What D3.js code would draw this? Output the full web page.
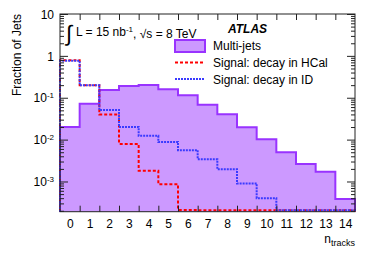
<!DOCTYPE html>
<html>
<head>
<meta charset="utf-8">
<script src="https://cdn.jsdelivr.net/npm/d3@7"></script>
<style>
body{margin:0;background:#fff;}
svg{display:block;font-family:"Liberation Sans",Arial,sans-serif;}
.tick line{stroke:#222;}
</style>
</head>
<body>
<svg id="chart" width="374" height="253"></svg>
<script>
// bin centres (number of tracks)
const nTracks = [0,1,2,3,4,5,6,7,8,9,10,11,12,13,14]
// fraction of jets per bin
const multiJets = [0.020,0.072,0.153,0.191,0.202,0.160,0.115,0.0685,0.0404,0.0198,0.0102,0.0050,0.0026,0.0017,0.00038]
const signalHCal = [0.79,0.20,0.040,0.0079,0.0018,0.00086,0.00021,0,0,0,0,0,0,0,0]
const signalID = [0.76,0.20,0.051,0.020,0.0123,0.0088,0.0056,0.0034,0.00196,0.0009,0.0004,0,0,0,0]

const yMajor = [1e-3,1e-2,1e-1,1,10]

function init(){
	let svg = d3.select('#chart')
	let left = 60, right = 355, top = 14, bottom = 211.7

	let x = d3.scaleLinear().domain([-0.5,14.5]).range([left,right])
	let y = d3.scaleLog().domain([1.9e-4,10]).range([bottom,top])

	// minor log ticks 2..9 for each decade
	let yMinor = []
	for(let e=-4;e<1;e++){
		for(let m=2;m<10;m++){
			let v = m*Math.pow(10,e)
			if(v>=1.9e-4 && v<10){yMinor.push(v)}
		}
	}

	function stepPath(values,floor){
		let pts = [[x(-0.5),bottom]]
		values.forEach(function(v,i){
			let yy = v>y.domain()[0] ? y(v) : floor
			pts.push([x(nTracks[i]-0.5),yy])
			pts.push([x(nTracks[i]+0.5),yy])
		})
		pts.push([x(14.5),bottom])
		return pts
	}

	// multi-jets filled histogram
	let mj = stepPath(multiJets,bottom)
	svg.append('path')
		.attr('d',d3.line()(mj))
		.attr('fill','#cc99ff')
		.attr('stroke','#9933ff')
		.attr('stroke-width',2)

	// signal histograms
	svg.append('path')
		.attr('d',d3.line()(stepPath(signalHCal,bottom-1.5)))
		.attr('fill','none')
		.attr('stroke','#ff0000')
		.attr('stroke-width',2)
		.attr('stroke-dasharray','3,2')

	svg.append('path')
		.attr('d',d3.line()(stepPath(signalID,bottom-1.5)))
		.attr('fill','none')
		.attr('stroke','#3a3aff')
		.attr('stroke-width',2)
		.attr('stroke-dasharray','2,1')

	// frame
	svg.append('rect')
		.attr('x',left).attr('y',top)
		.attr('width',right-left).attr('height',bottom-top)
		.attr('fill','none').attr('stroke','#222').attr('stroke-width',1)

	let edges = nTracks.slice(1).map(function(d){return d-0.5})

	svg.append('g').attr('transform','translate(0,'+bottom+')')
		.call(d3.axisBottom(x).tickValues(edges).tickFormat('').tickSize(-6))
		.call(function(g){g.select('.domain').remove()})
	svg.append('g').attr('transform','translate(0,'+top+')')
		.call(d3.axisTop(x).tickValues(edges).tickFormat('').tickSize(-6))
		.call(function(g){g.select('.domain').remove()})
	svg.append('g').attr('transform','translate(0,'+bottom+')')
		.call(d3.axisBottom(x).tickValues(nTracks).tickSize(0).tickPadding(8))
		.call(function(g){g.select('.domain').remove()})
		.selectAll('text').attr('font-size',12).attr('fill','#000').attr('font-family','Liberation Sans, Arial, sans-serif')

	// y axes
	svg.append('g').attr('transform','translate('+left+',0)')
		.call(d3.axisLeft(y).tickValues(yMinor).tickFormat('').tickSize(-4))
		.call(function(g){g.select('.domain').remove()})
	svg.append('g').attr('transform','translate('+right+',0)')
		.call(d3.axisRight(y).tickValues(yMinor).tickFormat('').tickSize(-4))
		.call(function(g){g.select('.domain').remove()})
	svg.append('g').attr('transform','translate('+right+',0)')
		.call(d3.axisRight(y).tickValues(yMajor).tickFormat('').tickSize(-8))
		.call(function(g){g.select('.domain').remove()})

	let yl = svg.append('g').attr('transform','translate('+left+',0)')
		.call(d3.axisLeft(y).tickValues(yMajor).tickSize(-8).tickPadding(6).tickFormat(''))
		.call(function(g){g.select('.domain').remove()})

	yl.selectAll('.tick').each(function(d){
		let t = d3.select(this).append('text')
			.attr('x',-6).attr('dy','0.35em')
			.attr('text-anchor','end')
			.attr('font-size',12).attr('fill','#000')
		let e = Math.round(Math.log10(d))
		if(e==0){t.text('1')}
		else if(e==1){t.text('10')}
		else{
			t.append('tspan').text('10')
			t.append('tspan').attr('font-size',8).attr('dy','-0.5em').text(e)
		}
	})

	// axis titles
	svg.append('text')
		.attr('transform','translate(21,'+top+') rotate(-90)')
		.attr('text-anchor','end').attr('font-size',12)
		.text('Fraction of Jets')

	let xt = svg.append('text').attr('x',right).attr('y',243).attr('text-anchor','end').attr('font-size',12)
	xt.append('tspan').text('n')
	xt.append('tspan').attr('font-size',9).attr('dy','0.3em').text('tracks')

	// labels
	svg.append('text').attr('x',66).attr('y',41).attr('font-size',22).text('\u222B')
	let lumi = svg.append('text').attr('x',76).attr('y',36).attr('font-size',12)
	lumi.append('tspan').text('L = 15 nb')
	lumi.append('tspan').attr('font-size',8).attr('dy','-0.5em').text('-1')
	lumi.append('tspan').attr('dy','0.5em').text(', \u221As = 8 TeV')

	svg.append('text').attr('x',228).attr('y',33).attr('font-size',12)
		.attr('font-weight','bold').attr('font-style','italic').text('ATLAS')

	// legend
	let lx = 175
	svg.append('rect').attr('x',lx).attr('y',40).attr('width',30).attr('height',12)
		.attr('fill','#cc99ff').attr('stroke','#9933ff').attr('stroke-width',2)
	svg.append('line').attr('x1',lx).attr('x2',lx+30).attr('y1',62.5).attr('y2',62.5)
		.attr('stroke','#ff0000').attr('stroke-width',2).attr('stroke-dasharray','3,2')
	svg.append('line').attr('x1',lx).attr('x2',lx+30).attr('y1',79).attr('y2',79)
		.attr('stroke','#3a3aff').attr('stroke-width',2).attr('stroke-dasharray','2,1')

	let legendText = ['Multi-jets','Signal: decay in HCal','Signal: decay in ID']
	let legendY = [46,63,80]
	legendText.forEach(function(s,i){
		svg.append('text').attr('x',213).attr('y',legendY[i]).attr('dy','0.35em')
			.attr('font-size',12).text(s)
	})
}

init();
</script>
</body>
</html>
